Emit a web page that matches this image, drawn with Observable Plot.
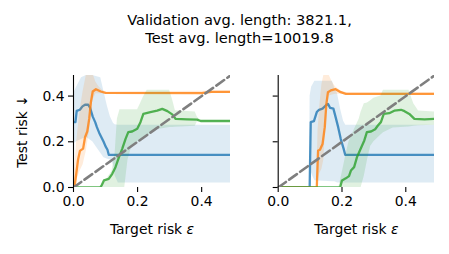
<!DOCTYPE html>
<html>
<head>
<meta charset="utf-8">
<script src="https://cdn.jsdelivr.net/npm/d3@7"></script>
<script src="https://cdn.jsdelivr.net/npm/@observablehq/plot@0.6"></script>
<style>
  body { margin: 0; background: white; }
  #title { position: absolute; left: 0; top: 0; width: 449px; text-align: center;
    font-family: "DejaVu Sans", sans-serif; font-size: 14.6px; line-height: 18px; padding-top: 11px; padding-left: 30px; box-sizing: border-box; }
  #charts { position: absolute; left: 0; top: 47px; display: flex; }
</style>
</head>
<body>
<div id="title"></div>
<div id="charts"></div>
<script>
const titleLines = ["Validation avg. length: 3821.1,", "Test avg. length=10019.8"];
const xLabelText = "Target risk ";
const xLabelSymbol = "\u03b5";
const yLabel = "Test risk \u2193";
const xTicks = [0, 0.2, 0.4];
const yTicks = [0, 0.2, 0.4];
const diagonal = [[0, 0], [0.49, 0.49]];

// Left panel: [x, y]
const leftBlue = [[0,0.286],[0.006,0.286],[0.01,0.335],[0.02,0.34],[0.028,0.355],[0.036,0.362],[0.046,0.362],[0.052,0.348],[0.06,0.31],[0.068,0.285],[0.073,0.264],[0.08,0.24],[0.087,0.22],[0.094,0.2],[0.1,0.18],[0.106,0.165],[0.11,0.143],[0.49,0.143]];
const leftOrange = [[0,0],[0.004,0.01],[0.014,0.12],[0.02,0.16],[0.03,0.17],[0.036,0.22],[0.043,0.245],[0.049,0.3],[0.054,0.37],[0.06,0.42],[0.07,0.43],[0.085,0.42],[0.1,0.414],[0.4,0.413],[0.43,0.418],[0.49,0.418]];
const leftGreen = [[0,0],[0.084,0],[0.088,0.01],[0.095,0.031],[0.11,0.038],[0.121,0.06],[0.131,0.089],[0.142,0.133],[0.152,0.169],[0.1625,0.213],[0.171,0.242],[0.183,0.245],[0.199,0.257],[0.209,0.286],[0.218,0.322],[0.24,0.33],[0.261,0.336],[0.277,0.344],[0.293,0.334],[0.308,0.32],[0.319,0.3],[0.355,0.298],[0.386,0.297],[0.397,0.291],[0.49,0.291]];
// Left bands: [x, low, high]
const leftBlueBand = [[0,0.19,0.41],[0.01,0.2,0.44],[0.025,0.21,0.48],[0.04,0.22,0.49],[0.06,0.2,0.49],[0.085,0.15,0.48],[0.095,0.13,0.42],[0.105,0.125,0.36],[0.115,0.12,0.31],[0.125,0.1,0.28],[0.13,0.05,0.275],[0.14,0.02,0.272],[0.49,0.02,0.272]];
const leftOrangeBand = [[0,0,0.02],[0.01,0.03,0.2],[0.02,0.07,0.33],[0.03,0.1,0.42],[0.04,0.16,0.49],[0.05,0.25,0.5],[0.06,0.38,0.5],[0.07,0.41,0.46],[0.08,0.41,0.44],[0.09,0.41,0.425],[0.1,0.408,0.418],[0.49,0.412,0.422]];
const leftGreenBand = [[0.08,0,0],[0.1,0,0.03],[0.12,0,0.07],[0.13,0,0.15],[0.137,0,0.3],[0.145,0,0.34],[0.16,0,0.34],[0.17,0.12,0.34],[0.18,0.17,0.34],[0.2,0.2,0.34],[0.21,0.21,0.37],[0.218,0.215,0.395],[0.23,0.22,0.425],[0.25,0.25,0.425],[0.3,0.262,0.425],[0.31,0.263,0.38],[0.318,0.264,0.336],[0.38,0.268,0.33],[0.386,0.285,0.31],[0.395,0.289,0.293],[0.49,0.289,0.293]];

// Right panel
const rightBlue = [[0,0],[0.0986,0],[0.102,0.286],[0.112,0.29],[0.121,0.33],[0.128,0.34],[0.139,0.345],[0.149,0.359],[0.156,0.366],[0.163,0.348],[0.173,0.345],[0.18,0.308],[0.188,0.264],[0.196,0.213],[0.205,0.17],[0.21,0.143],[0.49,0.143]];
const rightOrange = [[0,0],[0.121,0],[0.125,0.162],[0.131,0.165],[0.139,0.19],[0.146,0.264],[0.151,0.366],[0.156,0.417],[0.165,0.425],[0.18,0.43],[0.196,0.417],[0.212,0.41],[0.49,0.41]];
const rightGreen = [[0,0],[0.194,0],[0.2,0.031],[0.212,0.04],[0.222,0.05],[0.228,0.074],[0.238,0.089],[0.247,0.133],[0.254,0.155],[0.263,0.184],[0.27,0.206],[0.278,0.242],[0.291,0.245],[0.304,0.255],[0.312,0.27],[0.322,0.286],[0.331,0.322],[0.348,0.325],[0.364,0.336],[0.385,0.34],[0.396,0.334],[0.411,0.322],[0.427,0.3],[0.459,0.298],[0.49,0.3]];
const rightBlueBand = [[0.098,0,0],[0.1,0.1,0.4],[0.105,0.06,0.44],[0.115,0.03,0.465],[0.17,0.025,0.465],[0.178,0.025,0.43],[0.186,0.02,0.41],[0.196,0.02,0.34],[0.205,0.02,0.29],[0.212,0.02,0.272],[0.49,0.02,0.272]];
const rightOrangeBand = [[0.12,0,0],[0.125,0.03,0.25],[0.13,0.06,0.35],[0.137,0.08,0.45],[0.143,0.12,0.49],[0.146,0.2,0.5],[0.152,0.33,0.5],[0.16,0.4,0.49],[0.17,0.405,0.46],[0.18,0.408,0.44],[0.2,0.408,0.42],[0.22,0.407,0.413],[0.49,0.407,0.413]];
const rightGreenBand = [[0.19,0,0],[0.2,0,0.06],[0.212,0,0.14],[0.222,0,0.2],[0.238,0,0.25],[0.254,0,0.3],[0.26,0,0.33],[0.27,0.05,0.366],[0.28,0.12,0.37],[0.29,0.18,0.38],[0.3,0.2,0.39],[0.322,0.23,0.4],[0.33,0.24,0.425],[0.36,0.26,0.425],[0.41,0.265,0.425],[0.425,0.268,0.366],[0.44,0.27,0.335],[0.49,0.272,0.33]];

const colors = {blue: "#1f77b4", orange: "#ff7f0e", green: "#2ca02c"};

document.getElementById("title").innerHTML = titleLines.join("<br>");

function band(data, color, op) {
  return Plot.areaY(data, {x: d => d[0], y1: d => d[1], y2: d => d[2], fill: color, fillOpacity: op, clip: true});
}
function line(data, color) {
  return Plot.line(data, {x: d => d[0], y: d => d[1], stroke: color, strokeOpacity: 0.8, strokeWidth: 2.3, clip: true});
}

function panel(series, opts) {
  const [b, o, g, bb, ob, gb] = series;
  const svg = Plot.plot({
    width: opts.width, height: 207,
    marginLeft: opts.marginLeft, marginRight: opts.marginRight, marginTop: 28, marginBottom: 67,
    x: {domain: [0, 0.49]},
    y: {domain: [0, 0.49]},
    style: {fontFamily: "DejaVu Sans, sans-serif", fontSize: "13.9px", color: "black", background: "white", overflow: "visible"},
    marks: [
      band(bb, colors.blue, 0.15),
      line(b, colors.blue),
      band(ob, colors.orange, 0.15),
      line(o, colors.orange),
      band(gb, colors.green, 0.15),
      line(g, colors.green),
      Plot.line(diagonal, {x: d => d[0], y: d => d[1], stroke: "#7f7f7f", strokeWidth: 2.6, strokeDasharray: "9.5,4", clip: true}),
      Plot.ruleX([0], {stroke: "black", strokeWidth: 1.1}),
      Plot.axisX({ticks: xTicks, tickFormat: d3.format(".1f"), tickSize: 5, tickPadding: 4, strokeWidth: 1.1,
        label: xLabelText + xLabelSymbol, labelAnchor: "center", labelOffset: 46, labelArrow: "none"}),
      Plot.axisY({ticks: yTicks, tickFormat: opts.yLabels ? d3.format(".1f") : () => "", tickSize: 5, tickPadding: 4, strokeWidth: 1.1,
        label: opts.yLabels ? yLabel : null, labelAnchor: "center", labelOffset: 56, labelArrow: "none"})
    ]
  });
  // italicise the epsilon in the x label
  d3.select(svg).selectAll("text").each(function() {
    if (this.textContent === xLabelText + xLabelSymbol) {
      const t = d3.select(this);
      t.text(xLabelText);
      t.append("tspan").attr("font-style", "italic").text(xLabelSymbol);
    }
  });
  return svg;
}

const charts = document.getElementById("charts");
charts.appendChild(panel([leftBlue, leftOrange, leftGreen, leftBlueBand, leftOrangeBand, leftGreenBand], {width: 230, marginLeft: 73, marginRight: 0, yLabels: true}));
charts.appendChild(panel([rightBlue, rightOrange, rightGreen, rightBlueBand, rightOrangeBand, rightGreenBand], {width: 219, marginLeft: 47.7, marginRight: 15, yLabels: false}));
</script>
</body>
</html>
